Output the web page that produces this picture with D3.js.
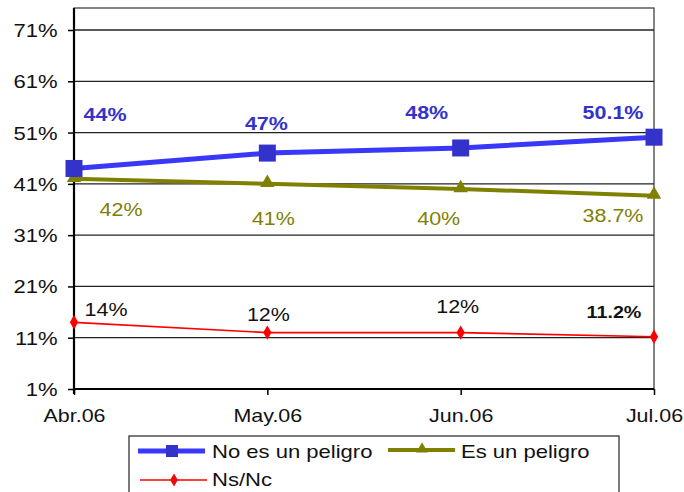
<!DOCTYPE html>
<html><head><meta charset="utf-8">
<script src="https://cdn.jsdelivr.net/npm/d3@7"></script>
<style>body{margin:0;background:#fff}svg{display:block;font-family:"Liberation Sans",Arial,sans-serif}</style>
</head><body><svg id="c" width="684" height="492"></svg>
<script>
const months = ["Abr.06", "May.06", "Jun.06", "Jul.06"];
const noPeligro = [44, 47, 48, 50.1];
const esPeligro = [42, 41, 40, 38.7];
const nsnc = [14, 12, 12, 11.2];
const noPeligroLabels = ["44%", "47%", "48%", "50.1%"];
const esPeligroLabels = ["42%", "41%", "40%", "38.7%"];
const nsncLabels = ["14%", "12%", "12%", "11.2%"];
const yTicks = [1, 11, 21, 31, 41, 51, 61, 71];

const svg = d3.select("#c");
const plotL = 74, plotR = 654, plotT = 8, plotB = 389;
const sx = 1.16; // wide lettering
const x = d3.scalePoint().domain(months).range([plotL, plotR]);
const y = d3.scaleLinear().domain([1, 71]).range([plotB, 30]);

// helper: text placed at (px, py) and widened horizontally
function wideText(g, px, py, str, size, color, weight, anchor) {
  return g.append("text")
    .attr("transform", `translate(${px},${py}) scale(${sx},1)`)
    .attr("text-anchor", anchor || "middle")
    .attr("font-size", size).attr("font-weight", weight || "normal")
    .attr("fill", color).text(str);
}

// plot frame and gridlines
svg.append("rect").attr("x", plotL).attr("y", plotT).attr("width", plotR - plotL).attr("height", plotB - plotT)
  .attr("fill", "#fff").attr("stroke", "#333").attr("stroke-width", 1.2);
svg.append("g").selectAll("line").data(yTicks.slice(1)).join("line")
  .attr("x1", plotL).attr("x2", plotR).attr("y1", d => y(d)).attr("y2", d => y(d))
  .attr("stroke", "#222").attr("stroke-width", 1.3);

// axes
const yAxis = svg.append("g").attr("transform", `translate(${plotL},0)`)
  .call(d3.axisLeft(y).tickValues(yTicks).tickFormat(d => d + "%").tickSize(6).tickPadding(6));
yAxis.select(".domain").attr("d", `M0,${plotT}V${plotB + 5}`).attr("stroke", "#000").attr("stroke-width", 2.2);
yAxis.selectAll(".tick line").attr("stroke", "#000").attr("stroke-width", 1.5);
yAxis.selectAll("text").attr("font-size", 19).attr("fill", "#111")
  .attr("x", 0).attr("dy", "0.34em").attr("transform", `translate(-16.5,0) scale(${sx},1)`);

const xAxis = svg.append("g").attr("transform", `translate(0,${plotB})`)
  .call(d3.axisBottom(x).tickSize(6).tickPadding(10));
xAxis.select(".domain").attr("stroke", "#000").attr("stroke-width", 2.2).attr("d", `M${plotL},0H${plotR}`);
xAxis.selectAll(".tick line").attr("stroke", "#000").attr("stroke-width", 1.5);
xAxis.selectAll("text").attr("font-size", 18.5).attr("fill", "#111")
  .attr("y", 0).attr("dy", 0).attr("transform", `translate(0,33) scale(${sx},1)`);

const line = d3.line().x((d, i) => x(months[i])).y(d => y(d));

// Ns/Nc series
svg.append("path").datum(nsnc).attr("d", line).attr("fill", "none").attr("stroke", "#ff0000").attr("stroke-width", 1.6);
svg.append("g").selectAll("path").data(nsnc).join("path")
  .attr("d", d3.symbol(d3.symbolDiamond, 60)).attr("fill", "#ff0000")
  .attr("transform", (d, i) => `translate(${x(months[i])},${y(d)})`);

// Es un peligro series
svg.append("path").datum(esPeligro).attr("d", line).attr("fill", "none").attr("stroke", "#808000").attr("stroke-width", 4);
svg.append("g").selectAll("path").data(esPeligro).join("path")
  .attr("d", d3.symbol(d3.symbolTriangle, 90)).attr("fill", "#808000")
  .attr("transform", (d, i) => `translate(${x(months[i])},${y(d) - 1})`);

// No es un peligro series
svg.append("path").datum(noPeligro).attr("d", line).attr("fill", "none").attr("stroke", "#3838f8").attr("stroke-width", 5);
svg.append("g").selectAll("rect").data(noPeligro).join("rect")
  .attr("x", (d, i) => x(months[i]) - 8.5).attr("y", d => y(d) - 8.5).attr("width", 17).attr("height", 17)
  .attr("fill", "#3333cc");

// value labels
const labels = svg.append("g");
const blueOff = [[31, -47], [-1, -23], [-34, -29], [-41, -18]];
noPeligroLabels.forEach((s, i) => wideText(labels, x(months[i]) + blueOff[i][0], y(noPeligro[i]) + blueOff[i][1], s, 18.5, "#3333cc", "bold"));
const oliveOff = [[47, 37], [6, 41], [-22, 36], [-41, 26]];
esPeligroLabels.forEach((s, i) => wideText(labels, x(months[i]) + oliveOff[i][0], y(esPeligro[i]) + oliveOff[i][1], s, 18.5, "#808000"));
const redOff = [[32, -6], [1, -12], [-3, -20], [-40, -19]];
nsncLabels.forEach((s, i) => wideText(labels, x(months[i]) + redOff[i][0], y(nsnc[i]) + redOff[i][1], s,
  i === 3 ? 17 : 18.5, "#111", i === 3 ? "bold" : "normal"));

// legend
const lg = svg.append("g");
lg.append("rect").attr("x", 129).attr("y", 436).attr("width", 490).attr("height", 70)
  .attr("fill", "#fff").attr("stroke", "#222").attr("stroke-width", 1.2);
const legendItems = [
  {name: "No es un peligro", color: "#3838f8", w: 5, lx: 138, ly: 451, tx: 212, ty: 458, sym: "sq"},
  {name: "Es un peligro", color: "#808000", w: 4, lx: 388, ly: 450, tx: 461, ty: 458, sym: "tri"},
  {name: "Ns/Nc", color: "#ff0000", w: 1.6, lx: 140, ly: 480, tx: 212, ty: 486, sym: "dia"}
];
legendItems.forEach(it => {
  lg.append("line").attr("x1", it.lx).attr("x2", it.lx + 67).attr("y1", it.ly).attr("y2", it.ly)
    .attr("stroke", it.color).attr("stroke-width", it.w);
  const cx = it.lx + 34;
  if (it.sym === "sq") lg.append("rect").attr("x", cx - 6).attr("y", it.ly - 6).attr("width", 12).attr("height", 12).attr("fill", "#3333cc");
  else if (it.sym === "tri") lg.append("path").attr("d", d3.symbol(d3.symbolTriangle, 60)).attr("fill", it.color).attr("transform", `translate(${cx},${it.ly - 1})`);
  else lg.append("path").attr("d", d3.symbol(d3.symbolDiamond, 50)).attr("fill", it.color).attr("transform", `translate(${cx},${it.ly})`);
  wideText(lg, it.tx, it.ty, it.name, 19, "#111", "normal", "start");
});
</script></body></html>
